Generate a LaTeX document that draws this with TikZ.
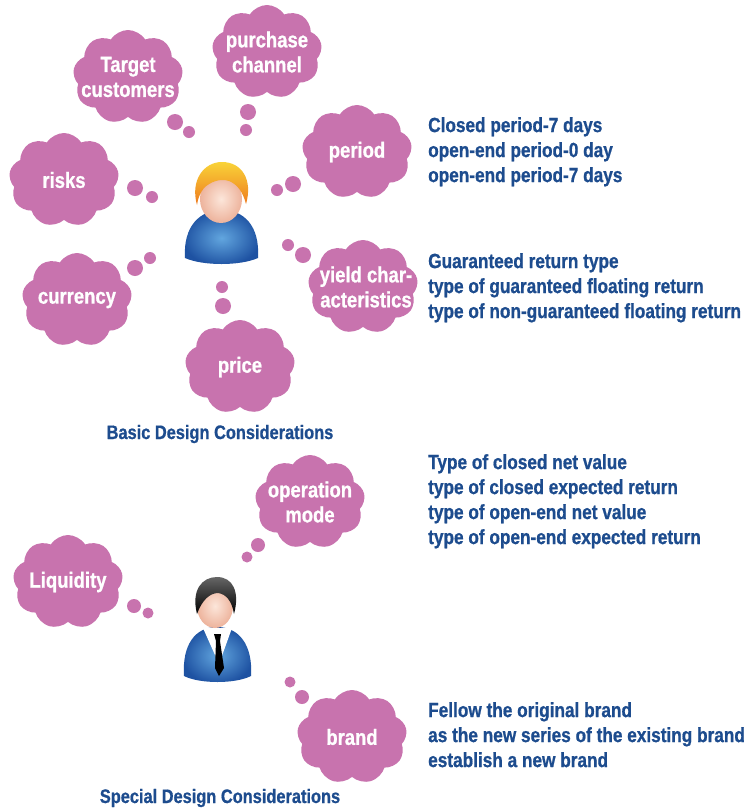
\documentclass[tikz,border=0pt]{standalone}
\usepackage{fontspec}
\setmainfont{Liberation Sans}[FakeStretch=0.84, BoldFeatures={FakeBold=0.8}]
\usetikzlibrary{shapes.symbols}

\definecolor{puff}{HTML}{C873AE}
\definecolor{ink}{HTML}{1D4C8E}
\definecolor{shirtlight}{HTML}{62A6DF}
\definecolor{shirtdark}{HTML}{1E52A2}
\definecolor{skinlight}{HTML}{FCE6DA}
\definecolor{skindark}{HTML}{EDB39C}
\definecolor{hairlight}{HTML}{F9D338}
\definecolor{hairdark}{HTML}{EE7A1E}

\tikzset{
  cloudbox/.style={cloud, cloud puffs=9, cloud puff arc=115, aspect=1.15,
    fill=puff, draw=none, inner sep=0pt, minimum width=110pt, minimum height=94pt},
  cloudtext/.style={text=white, align=center, inner sep=0pt,
    font=\bfseries\fontsize{22}{25}\selectfont},
  bubble/.style={circle, fill=puff, draw=none, inner sep=0pt, minimum size=#1},
  notes/.style={text=ink, align=left, anchor=north west, inner sep=0pt,
    font=\bfseries\fontsize{20.5}{25}\selectfont},
  heading/.style={text=ink, inner sep=0pt, font=\bfseries\fontsize{19.5}{22}\selectfont},
}

\begin{document}
\begin{tikzpicture}[x=1pt, y=-1pt]
\useasboundingbox (0,0) rectangle (745,812);
\fill[white] (0,0) rectangle (745,812);

% ---------- basic design considerations ----------
\node[cloudbox] (tc) at (128,77) {};
\node[cloudtext] (tct) at (tc) {Target\\customers};
\node[cloudbox] (pc) at (267,52) {};
\node[cloudtext] (pct) at (pc) {purchase\\channel};
\node[cloudbox] (rk) at (64,180) {};
\node[cloudtext] (rkt) at (rk) {risks};
\node[cloudbox] (pd) at (357,152) {};
\node[cloudtext] (pdt) at (pd) {period};
\node[cloudbox] (yc) at (363,287) {};
\node[cloudtext] (yct) at (366,287) {yield char-\\acteristics};
\node[cloudbox] (cu) at (77,300) {};
\node[cloudtext] (cut) at (cu) {currency};
\node[cloudbox] (pr) at (240,367) {};
\node[cloudtext] (prt) at (pr) {price};

% thought bubbles
\node[bubble=16pt] (tc1) at (175,122) {};
\node[bubble=12pt] (tc2) at (189,132) {};
\node[bubble=16pt] (pc1) at (248,112) {};
\node[bubble=12pt] (pc2) at (246,130) {};
\node[bubble=16pt] (rk1) at (135,188) {};
\node[bubble=12pt] (rk2) at (152,197) {};
\node[bubble=16pt] (pd1) at (293,184) {};
\node[bubble=12pt] (pd2) at (277,190) {};
\node[bubble=12pt] (yc1) at (288,245) {};
\node[bubble=16pt] (yc2) at (303,255) {};
\node[bubble=16pt] (cu1) at (135,268) {};
\node[bubble=12pt] (cu2) at (150,258) {};
\node[bubble=12pt] (pr1) at (222,287) {};
\node[bubble=16pt] (pr2) at (223,306) {};

% first person
\shade[inner color=shirtlight, outer color=shirtdark]
  (185,258) .. controls (183,226) and (200,210) .. (222,210)
  .. controls (244,210) and (260,226) .. (258,258)
  .. controls (240,266) and (203,266) .. (185,258) -- cycle;
\shade[inner color=skinlight, outer color=skindark] (221,199) ellipse [x radius=21, y radius=24];
\shade[top color=hairlight, bottom color=hairdark]
  (197,205) .. controls (190,180) and (204,162) .. (222,162)
  .. controls (242,162) and (253,180) .. (246,204)
  .. controls (243,192) and (237,184) .. (229,181)
  .. controls (220,178) and (210,182) .. (204,188)
  .. controls (200,193) and (198,198) .. (197,205) -- cycle;

\node[notes] (pdn) at (428,117) {Closed period-7 days\\open-end period-0 day\\open-end period-7 days};
\node[notes] (ycn) at (428,253) {Guaranteed return type\\type of guaranteed floating return\\type of non-guaranteed floating return};
\node[heading] (basic) at (220,434) {Basic Design Considerations};

% ---------- special design considerations ----------
\node[cloudbox] (om) at (310,502) {};
\node[cloudtext] (omt) at (om) {operation\\mode};
\node[cloudbox] (lq) at (68,582) {};
\node[cloudtext] (lqt) at (lq) {Liquidity};
\node[cloudbox] (br) at (352,737) {};
\node[cloudtext] (brt) at (br) {brand};

\node[bubble=14pt] (om1) at (258,545) {};
\node[bubble=11pt] (om2) at (247,557) {};
\node[bubble=14pt] (lq1) at (134,606) {};
\node[bubble=11pt] (lq2) at (148,613) {};
\node[bubble=11pt] (br1) at (290,682) {};
\node[bubble=14pt] (br2) at (302,697) {};

% second person
\shade[inner color=shirtlight, outer color=shirtdark]
  (184,676) .. controls (182,645) and (195,627) .. (217,627)
  .. controls (239,627) and (253,645) .. (251,676)
  .. controls (235,684) and (200,684) .. (184,676) -- cycle;
\fill[white] (203,628) -- (232,628) -- (219,664) -- cycle;
\fill[black] (214,634) -- (221,634) -- (220,641) -- (224,668) -- (219,676) -- (215,668) -- (216,641) -- cycle;
\shade[inner color=skinlight, outer color=skindark] (215,606) ellipse [x radius=18, y radius=22];
\shade[top color=black!60, bottom color=black]
  (197,614) .. controls (191,590) and (202,577) .. (217,577)
  .. controls (233,577) and (240,592) .. (234,614)
  .. controls (232,601) and (226,594) .. (218,593)
  .. controls (210,593) and (202,600) .. (197,614) -- cycle;

\node[notes] (omn) at (428,454) {Type of closed net value\\type of closed expected return\\type of open-end net value\\type of open-end expected return};
\node[notes] (brn) at (428,702) {Fellow the original brand\\as the new series of the existing brand\\establish a new brand};
\node[heading] (special) at (220,798) {Special Design Considerations};
\end{tikzpicture}
\end{document}
